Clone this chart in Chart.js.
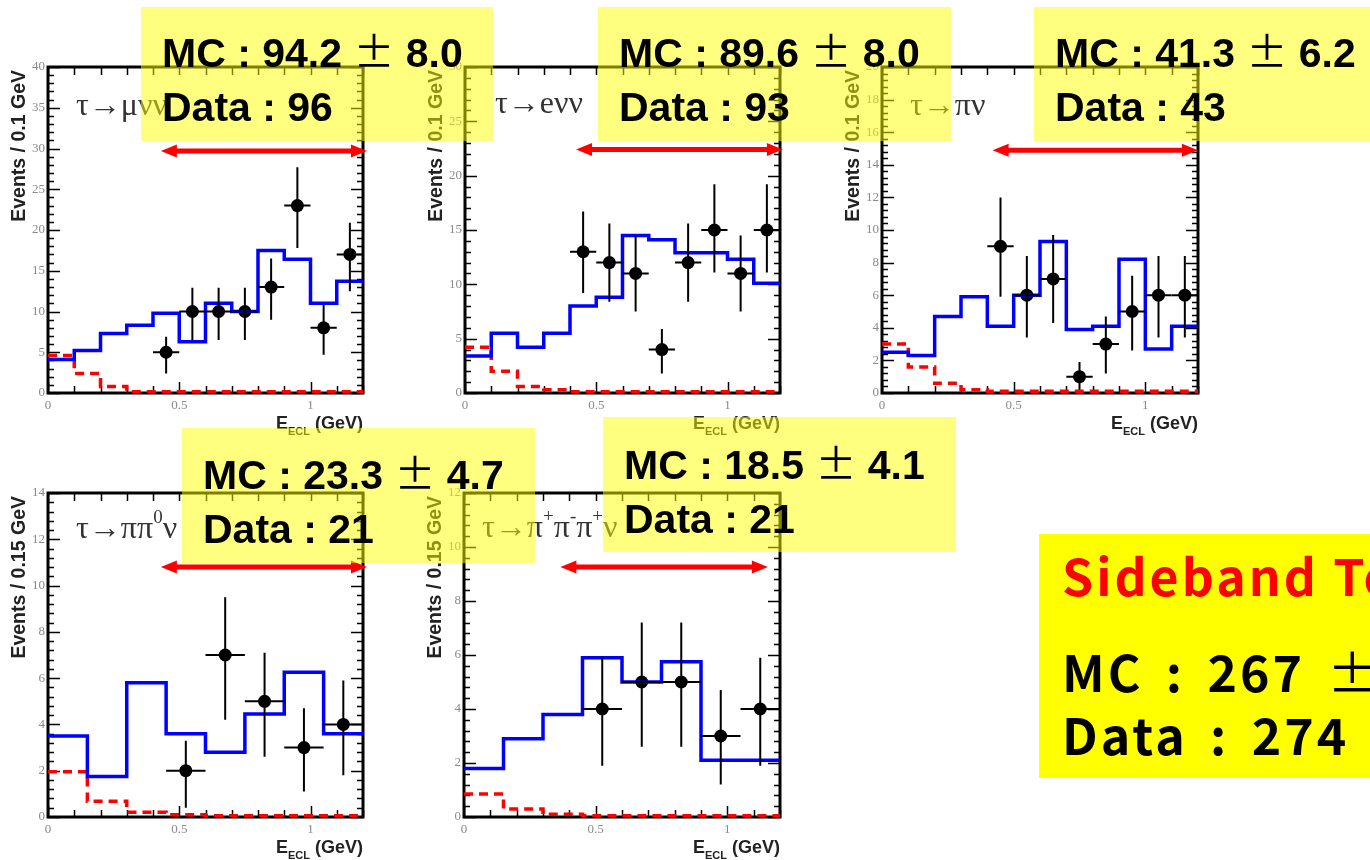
<!DOCTYPE html>
<html>
<head>
<meta charset="utf-8">
<script src="https://cdn.jsdelivr.net/npm/chart.js@4.4.1/dist/chart.umd.min.js"></script>
<style>
  html, body { margin: 0; padding: 0; background: #fff; width: 1370px; height: 860px; overflow: hidden; }
  body { position: relative; }
  canvas { position: absolute; }
  .note { position: absolute; background: rgba(255, 255, 0, 0.5); }
  .note div { position: absolute; left: 21px; white-space: nowrap; color: #000;
              font: bold 41px "Liberation Sans", Arial, sans-serif; line-height: 41px; }
  .pm { font-family: "Noto Sans CJK JP", sans-serif; font-weight: normal; }
  .total { position: absolute; left: 1039px; top: 534px; width: 340px; height: 244px; background: #ffff00; }
  .total div { position: absolute; left: 23px; white-space: nowrap; letter-spacing: 3px; word-spacing: 8px;
               font: bold 50px "Noto Sans CJK JP", sans-serif; line-height: 50px; color: #000; }
  .total .head { color: #ff0000; word-spacing: 0; }
</style>
</head>
<body>

<script>
// ---- binning ----
const edges10 = [0, 0.1, 0.2, 0.3, 0.4, 0.5, 0.6, 0.7, 0.8, 0.9, 1.0, 1.1, 1.2];
const edges15 = [0, 0.15, 0.3, 0.45, 0.6, 0.75, 0.9, 1.05, 1.2];
const centers10 = [0.45, 0.55, 0.65, 0.75, 0.85, 0.95, 1.05, 1.15];
const centers15 = [0.525, 0.675, 0.825, 0.975, 1.125];
const xTickLabels = [0, 0.5, 1];

// ---- tau -> mu nu nu ----
const muYTicks = [0, 5, 10, 15, 20, 25, 30, 35, 40];
const muMC   = [4.1, 5.2, 7.3, 8.3, 9.8, 6.3, 11.0, 10.0, 17.5, 16.4, 11.0, 13.7];
const muBkg  = [4.6, 2.4, 0.8, 0.15, 0.15, 0.15, 0.15, 0.15, 0.15, 0.15, 0.15, 0.15];
const muData = [5, 10, 10, 10, 13, 23, 8, 17];
const muHi   = [6.9, 12.9, 12.9, 12.9, 16.5, 27.7, 10.8, 20.9];
const muLo   = [2.4, 6.5, 6.5, 6.5, 9.0, 17.8, 4.7, 12.5];

// ---- tau -> e nu nu ----
const eYTicks = [0, 5, 10, 15, 20, 25, 30];
const eMC   = [3.4, 5.5, 4.2, 5.5, 8.0, 8.8, 14.5, 14.1, 12.9, 12.9, 12.3, 10.1];
const eBkg  = [4.2, 2.0, 0.6, 0.3, 0.12, 0.12, 0.12, 0.12, 0.12, 0.12, 0.12, 0.12];
const eData = [13, 12, 11, 4, 12, 15, 11, 15];
const eHi   = [16.7, 15.6, 14.5, 5.9, 15.6, 19.2, 14.5, 19.2];
const eLo   = [9.2, 8.4, 7.5, 1.8, 8.4, 11.1, 7.5, 11.1];

// ---- tau -> pi nu ----
const piYTicks = [0, 2, 4, 6, 8, 10, 12, 14, 16, 18, 20];
const piMC   = [2.5, 2.3, 4.7, 5.9, 4.1, 6.0, 9.3, 3.9, 4.1, 8.2, 2.7, 4.1];
const piBkg  = [3.0, 1.6, 0.6, 0.2, 0.1, 0.1, 0.1, 0.1, 0.1, 0.1, 0.1, 0.1];
const piData = [9, 6, 7, 1, 3, 5, 6, 6];
const piHi   = [12.0, 8.4, 9.7, 1.9, 4.7, 7.2, 8.4, 8.4];
const piLo   = [5.9, 3.4, 4.3, 0.2, 1.2, 2.6, 3.4, 3.4];

// ---- tau -> pi pi0 nu ----
const rhoYTicks = [0, 2, 4, 6, 8, 10, 12, 14];
const rhoMC   = [3.5, 1.75, 5.8, 3.6, 2.8, 4.45, 6.25, 3.6];
const rhoBkg  = [1.95, 0.68, 0.2, 0.1, 0.05, 0.05, 0.05, 0.05];
const rhoData = [2, 7, 5, 3, 4];
const rhoHi   = [3.3, 9.5, 7.1, 4.7, 5.9];
const rhoLo   = [0.4, 4.2, 2.6, 1.1, 1.8];

// ---- tau -> pi+ pi- pi+ nu ----
const tpiYTicks = [0, 2, 4, 6, 8, 10, 12];
const tpiMC   = [1.8, 2.9, 3.8, 5.9, 5.0, 5.75, 2.1, 2.1];
const tpiBkg  = [0.85, 0.3, 0.1, 0.05, 0.05, 0.05, 0.05, 0.05];
const tpiData = [4, 5, 5, 3, 4];
const tpiHi   = [5.9, 7.2, 7.2, 4.7, 5.9];
const tpiLo   = [1.9, 2.6, 2.6, 1.2, 1.9];

// signal window arrows: [from, to, height] in axis units
const muWindow  = [0.43, 1.215, 29.7];
const eWindow   = [0.423, 1.211, 22.4];
const piWindow  = [0.42, 1.20, 14.9];
const rhoWindow = [0.43, 1.215, 10.8];
const tpiWindow = [0.366, 1.154, 9.26];

// ---- panel layout (plot frame in page pixels) ----
const panels = [
  { area: [48, 67, 363, 393], yTicks: muYTicks, yMinor: 1, edges: edges10, mc: muMC, bkg: muBkg,
    cx: centers10, data: muData, hi: muHi, lo: muLo, win: muWindow,
    yTitle: 'Events / 0.1 GeV', decay: [['τ→μνν', 0]], decayDx: 28, decayDy: 48 },
  { area: [465, 67, 780, 393], yTicks: eYTicks, yMinor: 1, edges: edges10, mc: eMC, bkg: eBkg,
    cx: centers10, data: eData, hi: eHi, lo: eLo, win: eWindow,
    yTitle: 'Events / 0.1 GeV', decay: [['τ→eνν', 0]], decayDx: 30, decayDy: 46 },
  { area: [882, 67, 1198, 393], yTicks: piYTicks, yMinor: 0.4, edges: edges10, mc: piMC, bkg: piBkg,
    cx: centers10, data: piData, hi: piHi, lo: piLo, win: piWindow,
    yTitle: 'Events / 0.1 GeV', decay: [['τ→πν', 0]], decayDx: 28, decayDy: 48 },
  { area: [48, 493, 363, 817], yTicks: rhoYTicks, yMinor: 0.4, edges: edges15, mc: rhoMC, bkg: rhoBkg,
    cx: centers15, data: rhoData, hi: rhoHi, lo: rhoLo, win: rhoWindow,
    yTitle: 'Events / 0.15 GeV', decay: [['τ→ππ', 0], ['0', 1], ['ν', 0]], decayDx: 28, decayDy: 45 },
  { area: [464, 493, 780, 817], yTicks: tpiYTicks, yMinor: 0.4, edges: edges15, mc: tpiMC, bkg: tpiBkg,
    cx: centers15, data: tpiData, hi: tpiHi, lo: tpiLo, win: tpiWindow,
    yTitle: 'Events / 0.15 GeV',
    decay: [['τ→π', 0], ['+', 1], ['π', 0], ['-', 1], ['π', 0], ['+', 1], ['ν', 0]], decayDx: 18, decayDy: 44 }
];

const PAD = { left: 50, top: 45, right: 50, bottom: 50 };

// Frame, inside ticks, labels, error bars and window arrow in the ROOT style
const rootStyle = {
  id: 'rootStyle',
  beforeDatasetsDraw(chart, args, o) {
    const { ctx, chartArea: a, scales: { x, y } } = chart;
    ctx.save();
    ctx.strokeStyle = '#000';
    ctx.lineWidth = 1.5;
    // y ticks, left and right
    const yMax = y.max;
    const nMinor = Math.round(yMax / o.yMinor);
    for (let i = 0; i <= nMinor; i++) {
      const v = i * o.yMinor;
      const major = o.yTicks.some(t => Math.abs(t - v) < 1e-6);
      const len = major ? 12 : 6;
      const py = Math.round(y.getPixelForValue(v)) + 0.5;
      ctx.beginPath();
      ctx.moveTo(a.left, py); ctx.lineTo(a.left + len, py);
      ctx.moveTo(a.right, py); ctx.lineTo(a.right - len, py);
      ctx.stroke();
    }
    // x ticks, bottom and top
    for (let i = 0; i <= 12; i++) {
      const v = i / 10;
      const major = xTickLabels.some(t => Math.abs(t - v) < 1e-6);
      const len = major ? 11 : 7;
      const px = Math.round(x.getPixelForValue(v)) + 0.5;
      ctx.beginPath();
      ctx.moveTo(px, a.bottom); ctx.lineTo(px, a.bottom - len);
      ctx.moveTo(px, a.top); ctx.lineTo(px, a.top + 8);
      ctx.stroke();
    }
    // frame
    ctx.lineWidth = 3;
    ctx.strokeRect(a.left, a.top, a.right - a.left, a.bottom - a.top);
    ctx.restore();
  },
  afterDatasetsDraw(chart, args, o) {
    const { ctx, scales: { x, y } } = chart;
    const meta = chart.getDatasetMeta(2);
    ctx.save();
    ctx.strokeStyle = '#000';
    ctx.lineWidth = 2;
    meta.data.forEach((pt, i) => {
      const xv = o.cx[i];
      const yv = o.data[i];
      const px = x.getPixelForValue(xv);
      const py = y.getPixelForValue(yv);
      ctx.beginPath();
      ctx.moveTo(px, y.getPixelForValue(o.hi[i]));
      ctx.lineTo(px, y.getPixelForValue(o.lo[i]));
      ctx.moveTo(x.getPixelForValue(xv - o.hw), py);
      ctx.lineTo(x.getPixelForValue(xv + o.hw), py);
      ctx.stroke();
    });
    ctx.restore();
  },
  afterDraw(chart, args, o) {
    const { ctx, chartArea: a, scales: { x, y } } = chart;
    ctx.save();
    // tick labels
    ctx.fillStyle = '#8a8a8a';
    ctx.font = '13px "Liberation Serif", serif';
    ctx.textAlign = 'right';
    ctx.textBaseline = 'middle';
    o.yTicks.forEach(t => ctx.fillText(String(t), a.left - 3, y.getPixelForValue(t)));
    ctx.textAlign = 'center';
    xTickLabels.forEach(t => ctx.fillText(String(t), x.getPixelForValue(t), a.bottom + 13));

    // y title
    ctx.fillStyle = '#222';
    ctx.font = 'bold 19.5px "Liberation Sans", Arial, sans-serif';
    ctx.save();
    ctx.translate(a.left - 28, a.top + 3);
    ctx.rotate(-Math.PI / 2);
    ctx.textAlign = 'right';
    ctx.textBaseline = 'middle';
    ctx.fillText(o.yTitle, 0, 0);
    ctx.restore();

    // x title: E_ECL (GeV)
    ctx.textBaseline = 'alphabetic';
    ctx.textAlign = 'left';
    const big = 'bold 18px "Liberation Sans", Arial, sans-serif';
    const small = 'bold 11px "Liberation Sans", Arial, sans-serif';
    ctx.font = big; const wE = ctx.measureText('E').width; const wG = ctx.measureText(' (GeV)').width;
    ctx.font = small; const wS = ctx.measureText('ECL').width;
    let tx = a.right - (wE + wS + wG);
    const ty = a.bottom + 36;
    ctx.font = big; ctx.fillText('E', tx, ty); tx += wE;
    ctx.font = small; ctx.fillText('ECL', tx, ty + 6); tx += wS;
    ctx.font = big; ctx.fillText(' (GeV)', tx, ty);

    // decay label
    ctx.fillStyle = '#333';
    let dx = a.left + o.decayDx;
    const dy = a.top + o.decayDy;
    o.decay.forEach(([t, sup]) => {
      ctx.font = sup ? '19px "Liberation Serif", serif' : '32px "Liberation Serif", serif';
      ctx.fillText(t, dx, sup ? dy - 15 : dy);
      dx += ctx.measureText(t).width;
    });

    // signal window arrow
    const [w0, w1, wy] = o.win;
    const x0 = x.getPixelForValue(w0), x1 = x.getPixelForValue(w1), py = y.getPixelForValue(wy);
    const head = 16, half = 6.5;
    ctx.fillStyle = '#ff0000';
    ctx.strokeStyle = '#ff0000';
    ctx.lineWidth = 5;
    ctx.beginPath(); ctx.moveTo(x0 + head - 2, py); ctx.lineTo(x1 - head + 2, py); ctx.stroke();
    ctx.beginPath(); ctx.moveTo(x0, py); ctx.lineTo(x0 + head, py - half); ctx.lineTo(x0 + head, py + half); ctx.closePath(); ctx.fill();
    ctx.beginPath(); ctx.moveTo(x1, py); ctx.lineTo(x1 - head, py - half); ctx.lineTo(x1 - head, py + half); ctx.closePath(); ctx.fill();
    ctx.restore();
  }
};

function histPoints(edges, vals) {
  return edges.map((e, i) => ({ x: e, y: vals[Math.min(i, vals.length - 1)] }));
}

panels.forEach(p => {
  const [L, T, R, B] = p.area;
  const cv = document.createElement('canvas');
  const w = (R - L) + PAD.left + PAD.right;
  const h = (B - T) + PAD.top + PAD.bottom;
  cv.width = w; cv.height = h;
  cv.style.left = (L - PAD.left) + 'px';
  cv.style.top = (T - PAD.top) + 'px';
  cv.style.width = w + 'px'; cv.style.height = h + 'px';
  document.body.appendChild(cv);
  const yMax = p.yTicks[p.yTicks.length - 1];
  const hw = (p.edges[1] - p.edges[0]) / 2;

  new Chart(cv, {
    type: 'line',
    data: {
      datasets: [
        { label: 'MC', data: histPoints(p.edges, p.mc), stepped: 'before', borderColor: '#0000ff',
          borderWidth: 3.5, pointRadius: 0, fill: false, borderJoinStyle: 'miter' },
        { label: 'background', data: histPoints(p.edges, p.bkg), stepped: 'before', borderColor: '#ff0000',
          borderWidth: 3.5, borderDash: [9, 6], pointRadius: 0, fill: false },
        { label: 'Data', data: p.cx.map((c, i) => ({ x: c, y: p.data[i] })), showLine: false,
          pointRadius: 6.5, pointBackgroundColor: '#000', pointBorderColor: '#000', pointBorderWidth: 0 }
      ]
    },
    options: {
      responsive: false,
      animation: false,
      devicePixelRatio: 1,
      events: [],
      layout: { padding: PAD },
      scales: {
        x: { type: 'linear', min: 0, max: 1.2, display: false },
        y: { type: 'linear', min: 0, max: yMax, display: false }
      },
      plugins: {
        legend: { display: false },
        tooltip: { enabled: false },
        rootStyle: {
          yTicks: p.yTicks, yMinor: p.yMinor, cx: p.cx, data: p.data, hi: p.hi, lo: p.lo, hw: hw,
          win: p.win, yTitle: p.yTitle, decay: p.decay, decayDx: p.decayDx, decayDy: p.decayDy
        }
      }
    },
    plugins: [rootStyle]
  });
});
</script>

<div class="note" style="left:141px; top:7px; width:352px; height:134px;">
  <div style="top:22px;">MC : 94.2 <span class="pm">±</span> 8.0</div>
  <div style="top:80px;">Data : 96</div>
</div>
<div class="note" style="left:598px; top:7px; width:353px; height:134px;">
  <div style="top:22px;">MC : 89.6 <span class="pm">±</span> 8.0</div>
  <div style="top:80px;">Data : 93</div>
</div>
<div class="note" style="left:1034px; top:7px; width:340px; height:134px;">
  <div style="top:22px;">MC : 41.3 <span class="pm">±</span> 6.2</div>
  <div style="top:80px;">Data : 43</div>
</div>
<div class="note" style="left:182px; top:428px; width:353px; height:135px;">
  <div style="top:23px;">MC : 23.3 <span class="pm">±</span> 4.7</div>
  <div style="top:81px;">Data : 21</div>
</div>
<div class="note" style="left:603px; top:417px; width:353px; height:135px;">
  <div style="top:24px;">MC : 18.5 <span class="pm">±</span> 4.1</div>
  <div style="top:82px;">Data : 21</div>
</div>

<div class="total">
  <div class="head" style="top:15px;">Sideband Total</div>
  <div style="top:111px;">MC : 267 <span style="font-weight:normal;">±</span></div>
  <div style="top:174px;">Data : 274</div>
</div>

</body>
</html>
